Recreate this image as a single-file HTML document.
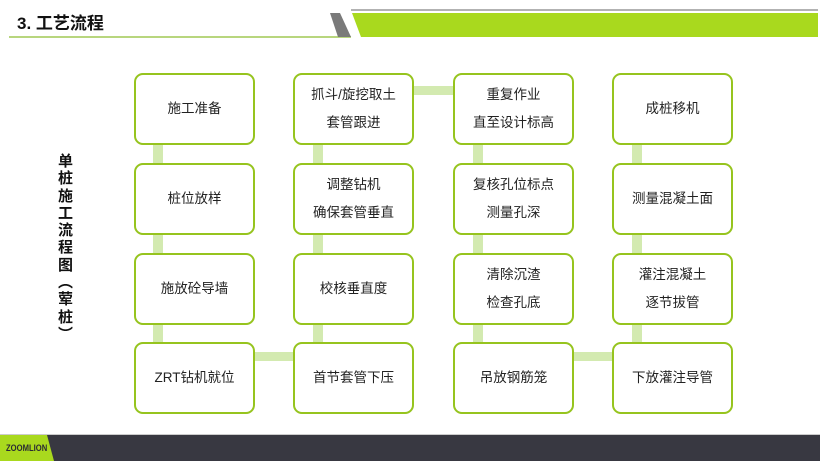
<!DOCTYPE html>
<html><head><meta charset="utf-8"><style>
body{margin:0;width:820px;height:461px;position:relative;background:#fff;overflow:hidden;font-family:"Liberation Sans","Noto Sans CJK SC",sans-serif}
.b{position:absolute;width:117px;height:68px;border:2px solid #96c41e;border-radius:9px;background:#fff;display:flex;flex-direction:column;justify-content:center;align-items:center;font-size:13.5px;color:#222;line-height:28px;z-index:2}
.v{position:absolute;width:10px;background:#d3eab0;z-index:1}
.h{position:absolute;height:9px;background:#d3eab0;z-index:1}
</style></head><body>
<div style="position:absolute;left:17px;top:9px;font-size:17px;font-weight:bold;color:#111">3. 工艺流程</div>
<div style="position:absolute;left:9px;top:36px;width:342px;height:2px;background:#b8d67e"></div>
<svg style="position:absolute;left:0;top:0" width="820" height="40">
<polygon points="330,13 340,13 351,37 338,37" fill="#7a7a7a"/>
<line x1="351" y1="10" x2="818" y2="10" stroke="#999" stroke-width="1.5"/>
<polygon points="352,13 818,13 818,37 361,37" fill="#a9d91e"/>
</svg>
<div style="position:absolute;left:57px;top:153px;width:17px;font-size:15px;font-weight:bold;line-height:17.3px;text-align:center;color:#111">单<br>桩<br>施<br>工<br>流<br>程<br>图<br>︵<br>荤<br>桩<br>︶</div>

<div class="v" style="left:153px;top:140px;height:210px"></div>
<div class="v" style="left:313px;top:140px;height:210px"></div>
<div class="v" style="left:473px;top:140px;height:210px"></div>
<div class="v" style="left:632px;top:140px;height:210px"></div>
<div class="h" style="left:250px;top:352px;width:50px"></div>
<div class="h" style="left:410px;top:86px;width:50px"></div>
<div class="h" style="left:570px;top:352px;width:50px"></div>

<div class="b" style="left:134px;top:73px">施工准备</div>
<div class="b" style="left:134px;top:163px">桩位放样</div>
<div class="b" style="left:134px;top:253px">施放砼导墙</div>
<div class="b" style="left:134px;top:342px">ZRT钻机就位</div>

<div class="b" style="left:293px;top:73px"><span>抓斗/旋挖取土</span><span>套管跟进</span></div>
<div class="b" style="left:293px;top:163px"><span>调整钻机</span><span>确保套管垂直</span></div>
<div class="b" style="left:293px;top:253px">校核垂直度</div>
<div class="b" style="left:293px;top:342px">首节套管下压</div>

<div class="b" style="left:453px;top:73px"><span>重复作业</span><span>直至设计标高</span></div>
<div class="b" style="left:453px;top:163px"><span>复核孔位标点</span><span>测量孔深</span></div>
<div class="b" style="left:453px;top:253px"><span>清除沉渣</span><span>检查孔底</span></div>
<div class="b" style="left:453px;top:342px">吊放钢筋笼</div>

<div class="b" style="left:612px;top:73px">成桩移机</div>
<div class="b" style="left:612px;top:163px">测量混凝土面</div>
<div class="b" style="left:612px;top:253px"><span>灌注混凝土</span><span>逐节拔管</span></div>
<div class="b" style="left:612px;top:342px">下放灌注导管</div>

<div style="position:absolute;left:0;top:434px;width:820px;height:1px;background:#ccc"></div>
<div style="position:absolute;left:0;top:435px;width:820px;height:26px;background:#383841"></div>
<svg style="position:absolute;left:0;top:435px" width="60" height="26"><polygon points="0,0 47,0 54,26 0,26" fill="#a9d91e"/></svg>
<div style="position:absolute;left:6px;top:443px;font-size:9px;font-weight:bold;color:#2a2a33;transform:scaleX(0.85);transform-origin:left top;white-space:nowrap">ZOOMLION</div>
</body></html>
